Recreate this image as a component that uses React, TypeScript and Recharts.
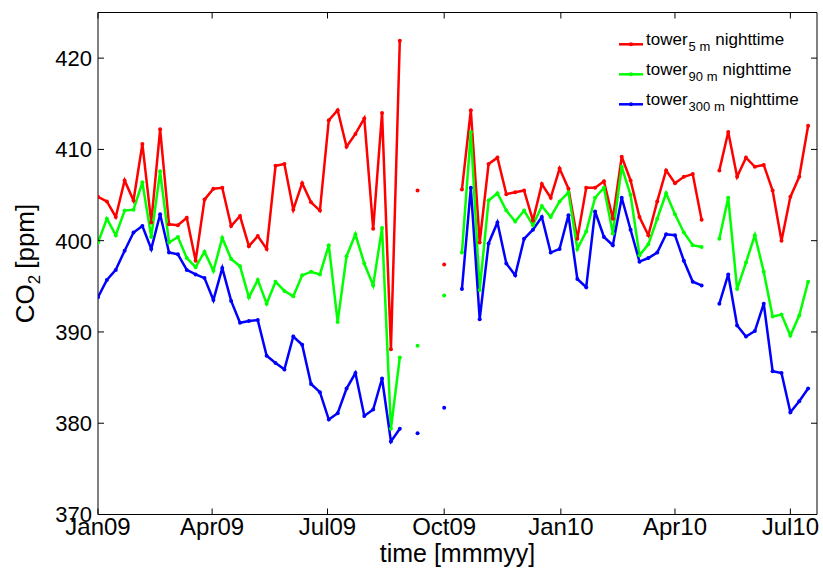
import React from 'react';
import { LineChart, Line, XAxis, YAxis, Legend } from 'recharts';

const FONT = '"Liberation Sans", Arial, Helvetica, sans-serif';

// weekly nighttime means (week start dates)
const weekDates: string[] = [
  '2009-01-01', '2009-01-08', '2009-01-15', '2009-01-22', '2009-01-29',
  '2009-02-05', '2009-02-12', '2009-02-19', '2009-02-26',
  '2009-03-05', '2009-03-12', '2009-03-19', '2009-03-26',
  '2009-04-02', '2009-04-09', '2009-04-16', '2009-04-23', '2009-04-30',
  '2009-05-07', '2009-05-14', '2009-05-21', '2009-05-28',
  '2009-06-04', '2009-06-11', '2009-06-18', '2009-06-25',
  '2009-07-02', '2009-07-09', '2009-07-16', '2009-07-23', '2009-07-30',
  '2009-08-06', '2009-08-13', '2009-08-20', '2009-08-27',
  '2009-09-03', '2009-09-10', '2009-09-17', '2009-09-24',
  '2009-10-01', '2009-10-08', '2009-10-15', '2009-10-22', '2009-10-29',
  '2009-11-05', '2009-11-12', '2009-11-19', '2009-11-26',
  '2009-12-03', '2009-12-10', '2009-12-17', '2009-12-24', '2009-12-31',
  '2010-01-07', '2010-01-14', '2010-01-21', '2010-01-28',
  '2010-02-04', '2010-02-11', '2010-02-18', '2010-02-25',
  '2010-03-04', '2010-03-11', '2010-03-18', '2010-03-25',
  '2010-04-01', '2010-04-08', '2010-04-15', '2010-04-22', '2010-04-29',
  '2010-05-06', '2010-05-13', '2010-05-20', '2010-05-27',
  '2010-06-03', '2010-06-10', '2010-06-17', '2010-06-24',
  '2010-07-01', '2010-07-08', '2010-07-15',
];

const tower5m: (number | null)[] = [
  404.8, 404.3, 402.6, 406.6, 404.4,
  410.6, 402.0, 412.2, 401.8,
  401.7, 402.5, 397.8, 404.5,
  405.7, 405.8, 401.6, 402.7, 399.4,
  400.5, 399.1, 408.2, 408.4,
  403.4, 406.3, 404.2, 403.3,
  413.2, 414.3, 410.3, 411.7, 413.4,
  401.3, 414.0, 388.1, 421.9,
  null, 405.5, null, null,
  397.4, null, 405.6, 414.3, 399.8,
  408.4, 409.1, 405.1, 405.3,
  405.5, 402.2, 406.2, 404.7, 407.9,
  405.7, 400.2, 405.8, 405.8,
  406.5, 402.4, 409.2, 406.6,
  402.6, 400.6, 404.3, 407.7,
  406.3, 407.0, 407.3, 402.3, null,
  407.7, 411.9, 407.0, 409.1,
  408.1, 408.3, 405.5, 400.0,
  404.8, 407.0, 412.6,
];

const tower90m: (number | null)[] = [
  399.8, 402.4, 400.6, 403.3, 403.4,
  406.4, 400.4, 407.6, 399.8,
  400.4, 398.1, 397.1, 398.8,
  396.7, 400.3, 398.0, 397.2, 393.8,
  395.7, 393.1, 395.5, 394.5,
  393.9, 396.2, 396.6, 396.3,
  399.5, 391.1, 398.3, 400.7, 397.5,
  395.1, 401.4, 379.4, 387.2,
  null, 388.5, null, null,
  394.0, null, 398.7, 411.9, 394.6,
  404.4, 405.2, 403.3, 402.1,
  403.3, 401.7, 403.8, 402.6, 404.3,
  405.3, 399.1, 401.0, 404.7,
  405.8, 400.8, 408.1, 405.0,
  398.4, 399.6, 402.4, 405.2,
  402.9, 400.9, 399.5, 399.3, null,
  400.2, 404.7, 394.7, 397.6,
  400.6, 396.6, 391.7, 391.9,
  389.6, 391.8, 395.5,
];

const tower300m: (number | null)[] = [
  393.8, 395.7, 396.8, 398.9, 400.9,
  401.6, 399.1, 402.9, 398.7,
  398.5, 396.8, 396.3, 395.9,
  393.5, 397.0, 393.4, 391.0, 391.2,
  391.3, 387.4, 386.6, 385.9,
  389.5, 388.6, 384.3, 383.4,
  380.4, 381.1, 383.8, 385.5, 380.8,
  381.5, 384.9, 378.0, 379.4,
  null, 378.9, null, null,
  381.7, null, 394.7, 405.8, 391.4,
  399.7, 402.0, 397.5, 396.2,
  400.2, 401.2, 402.6, 398.7, 399.1,
  402.8, 395.8, 394.9, 403.2,
  400.4, 399.5, 404.7, 401.2,
  397.7, 398.1, 398.7, 400.7,
  400.6, 397.8, 395.5, 395.1, null,
  393.1, 396.3, 390.7, 389.5,
  390.1, 393.1, 385.7, 385.5,
  381.2, 382.4, 383.8,
];

const tickDates: string[] = ['2009-01-01', '2009-04-01', '2009-07-01', '2009-10-01', '2010-01-01', '2010-04-01', '2010-07-01'];
const tickLabels: string[] = ['Jan09', 'Apr09', 'Jul09', 'Oct09', 'Jan10', 'Apr10', 'Jul10'];
const yTicks: number[] = [370, 380, 390, 400, 410, 420];
const yDomain: [number, number] = [370, 425];
const xStartDate = '2009-01-01';
const xEndDate = '2010-07-22';

const series = [
  { key: 't5', sub: '5 m', color: '#ff0000' },
  { key: 't90', sub: '90 m', color: '#00ff00' },
  { key: 't300', sub: '300 m', color: '#0000ff' },
];

const ORIGIN = (() => {
  const [y, m, d] = xStartDate.split('-').map(Number);
  return Date.UTC(y, m - 1, d);
})();
const toDay = (s: string) => {
  const [y, m, d] = s.split('-').map(Number);
  return Math.round((Date.UTC(y, m - 1, d) - ORIGIN) / 86400000);
};

const data = weekDates.map((d, i) => ({
  day: toDay(d),
  t5: tower5m[i],
  t90: tower90m[i],
  t300: tower300m[i],
}));
const xTicks = tickDates.map(toDay);
const xDomain: [number, number] = [0, toDay(xEndDate)];
const labelFor = (v: number) => {
  const i = xTicks.indexOf(v);
  return i >= 0 ? tickLabels[i] : '';
};

const TICK = 6;

const LeftTick = (props: any) => {
  const { x, y, payload } = props;
  return (
    <g>
      <line x1={x} x2={x + TICK} y1={y} y2={y} stroke="#000" strokeWidth={1} />
      <text x={x - 6} y={y} dy="0.36em" textAnchor="end" fontSize={22} fontFamily={FONT} fill="#000">
        {payload.value}
      </text>
    </g>
  );
};

const RightTick = (props: any) => {
  const { x, y } = props;
  return <line x1={x} x2={x - TICK} y1={y} y2={y} stroke="#000" strokeWidth={1} />;
};

const BottomTick = (props: any) => {
  const { x, y, payload } = props;
  return (
    <g>
      <line x1={x} x2={x} y1={y} y2={y - TICK} stroke="#000" strokeWidth={1} />
      <text x={x} y={y + 20.5} textAnchor="middle" fontSize={24} fontFamily={FONT} fill="#000">
        {labelFor(payload.value)}
      </text>
    </g>
  );
};

const TopTick = (props: any) => {
  const { x, y } = props;
  return <line x1={x} x2={x} y1={y} y2={y + TICK} stroke="#000" strokeWidth={1} />;
};

const XLabel = (props: any) => {
  const vb = props.viewBox || {};
  return (
    <text x={vb.x + vb.width / 2} y={vb.y + 47} textAnchor="middle" fontSize={25} fontFamily={FONT} fill="#000">
      time [mmmyy]
    </text>
  );
};

const YLabel = (props: any) => {
  const vb = props.viewBox || {};
  const cx = vb.x + vb.width - 64;
  const cy = vb.y + vb.height / 2;
  return (
    <text
      transform={`translate(${cx},${cy}) rotate(-90)`}
      x={0}
      y={0}
      textAnchor="middle"
      fontSize={26}
      fontFamily={FONT}
      fill="#000"
    >
      CO<tspan dy={6} fontSize={17}>2</tspan>
      <tspan dy={-6} dx={6}>[ppm]</tspan>
    </text>
  );
};

const LegendBox = () => (
  <svg width={222} height={100} style={{ display: 'block' }}>
    {series.map((s, i) => {
      const cy = 24.3 + i * 30;
      return (
        <g key={s.key}>
          <line x1={19} x2={43} y1={cy} y2={cy} stroke={s.color} strokeWidth={2.5} />
          <circle cx={31} cy={cy} r={2} fill={s.color} />
          <text x={46} y={cy + 0.7} fontSize={17} fontFamily={FONT} fill="#000">
            tower
            <tspan dy={6} dx={1} fontSize={13}>{s.sub}</tspan>
            <tspan dy={-6} dx={5} fontSize={17}>nighttime</tspan>
          </text>
        </g>
      );
    })}
  </svg>
);

export default function App() {
  return (
    <div style={{ position: 'absolute', left: 0, top: 0, background: '#fff' }}>
      <LineChart
        width={823}
        height={571}
        data={data}
        margin={{ top: 11.5, right: 5, bottom: 0, left: 0 }}
      >
        <XAxis
          xAxisId={0}
          dataKey="day"
          type="number"
          domain={xDomain}
          ticks={xTicks}
          interval={0}
          height={56.5}
          tickSize={0}
          tickMargin={0}
          tickLine={false}
          axisLine={{ stroke: '#000', strokeWidth: 1 }}
          tick={<BottomTick />}
          allowDataOverflow
          label={<XLabel />}
        />
        <XAxis
          xAxisId="top"
          orientation="top"
          dataKey="day"
          type="number"
          domain={xDomain}
          ticks={xTicks}
          interval={0}
          height={1}
          tickSize={0}
          tickMargin={0}
          tickLine={false}
          axisLine={{ stroke: '#000', strokeWidth: 1 }}
          tick={<TopTick />}
          allowDataOverflow
        />
        <YAxis
          yAxisId={0}
          type="number"
          domain={yDomain}
          ticks={yTicks}
          interval={0}
          width={98}
          tickSize={0}
          tickMargin={0}
          tickLine={false}
          axisLine={{ stroke: '#000', strokeWidth: 1 }}
          tick={<LeftTick />}
          allowDataOverflow
          label={<YLabel />}
        />
        <YAxis
          yAxisId="right"
          orientation="right"
          type="number"
          domain={yDomain}
          ticks={yTicks}
          interval={0}
          width={1}
          tickSize={0}
          tickMargin={0}
          tickLine={false}
          axisLine={{ stroke: '#000', strokeWidth: 1 }}
          tick={<RightTick />}
          allowDataOverflow
        />
        <Legend
          layout="horizontal"
          verticalAlign="middle"
          align="center"
          content={<LegendBox />}
          wrapperStyle={{ position: 'absolute', left: 600, top: 20, width: 222, height: 100 }}
        />
        {/* invisible carrier so the mirrored top/right axes (box) are drawn */}
        <Line
          xAxisId="top"
          yAxisId="right"
          type="linear"
          dataKey="t5"
          stroke="none"
          strokeWidth={0}
          dot={false}
          activeDot={false}
          legendType="none"
          isAnimationActive={false}
        />
        {series.map((s) => (
          <Line
            key={s.key}
            xAxisId={0}
            yAxisId={0}
            type="linear"
            dataKey={s.key}
            stroke={s.color}
            strokeWidth={2.5}
            dot={{ r: 2, fill: s.color, stroke: s.color, strokeWidth: 0 }}
            activeDot={false}
            connectNulls={false}
            isAnimationActive={false}
          />
        ))}
      </LineChart>
    </div>
  );
}
